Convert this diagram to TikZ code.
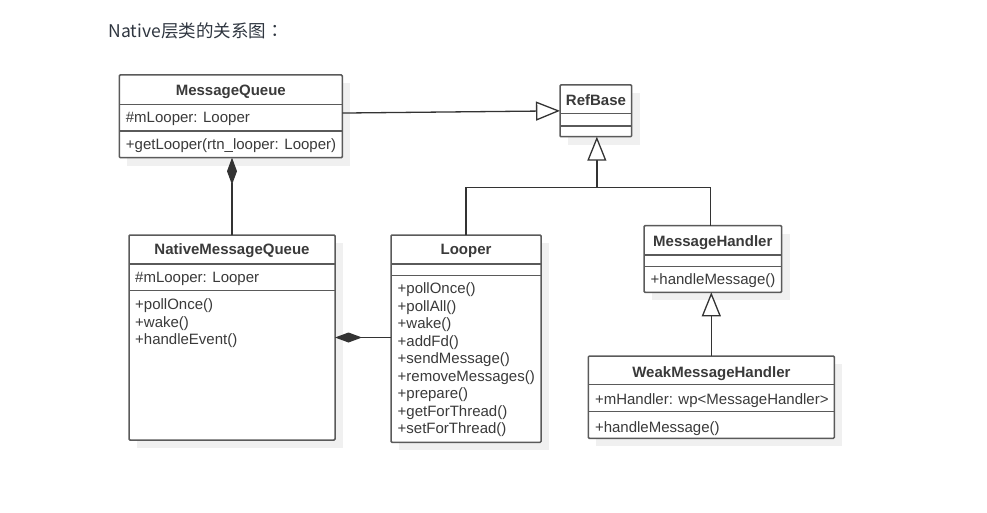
\documentclass[tikz,border=0pt]{standalone}
\usepackage{fontspec}
\setmainfont{Liberation Sans}
\newfontfamily\cjkfont{Noto Sans CJK SC}
\newfontfamily\cjktcfont{Noto Sans CJK TC}
\usetikzlibrary{arrows.meta,calc}
\definecolor{boxline}{HTML}{5A5A5A}
\definecolor{lncol}{HTML}{333333}
\definecolor{txt}{HTML}{3A3A3A}
\definecolor{titlecol}{HTML}{2F3640}
\definecolor{shadowcol}{HTML}{F0F0F0}
\newcommand\umlbox[7]{%
  \fill[shadowcol] (#2+8,#3+8) rectangle ++(#4,#5);
  \node[cls, minimum width=#4pt, minimum height=#5pt] (#1) at (#2,#3) {};
  \draw[sepline] (#2,#3+#6) -- ++(#4,0);
  \draw[sepline] (#2,#3+#7) -- ++(#4,0);
}
\begin{document}
\begin{tikzpicture}[x=1pt,y=-1pt,
  cls/.style={draw=boxline, line width=1.5pt, fill=white, anchor=north west, inner sep=0pt, outer sep=0pt, rounded corners=1pt},
  sepline/.style={draw=boxline, line width=1.5pt},
  t/.style={anchor=west, inner sep=0pt, text height=10.7pt, text depth=0pt, text=txt, font=\fontsize{15}{17.5}\selectfont},
  ttl/.style={anchor=center, inner sep=0pt, text height=10.7pt, text depth=0pt, text=txt, font=\fontsize{15}{17.5}\selectfont\bfseries},
  lnk/.style={draw=lncol, line width=1.3pt},
  gen/.style={lnk, -{Triangle[length=24pt, width=19pt, fill=white]}},
  comp/.style={lnk, -{Diamond[length=27pt, width=10pt]}}
]
\useasboundingbox (0,0) rectangle (987,513);

\node[anchor=west, inner sep=0pt, text height=13.3pt, text depth=0pt, text=titlecol, font=\cjkfont\fontsize{17.5}{21}\selectfont] (title) at (108.5,30.5) {Native层类的关系图{\cjktcfont ：}};

% class boxes
\umlbox{mq}{119.3}{75}{223}{82.7}{29.3}{56}
\umlbox{rb}{560}{85}{71.7}{51.7}{28.7}{41}
\umlbox{nmq}{129}{235}{206}{205}{29}{55.7}
\umlbox{looper}{391}{235}{150}{207.3}{29}{40.7}
\umlbox{mh}{644}{225.7}{137.7}{66.6}{29.3}{41}
\umlbox{wmh}{588.3}{356}{246}{82.3}{28.3}{55.7}

% MessageQueue
\node[ttl] (mq-t) at (230.8,90) {MessageQueue};
\node[t] (mq-a1) at (125.7,117.5) {\#mLooper: Looper};
\node[t] (mq-m1) at (125.7,144.5) {+getLooper(rtn\_looper: Looper)};

% RefBase
\node[ttl] (rb-t) at (596,100) {RefBase};

% NativeMessageQueue
\node[ttl] (nmq-t) at (232,249.5) {NativeMessageQueue};
\node[t] (nmq-a1) at (135,277) {\#mLooper: Looper};
\node[t] (nmq-m1) at (135,304.3) {+pollOnce()};
\node[t] (nmq-m2) at (135,321.8) {+wake()};
\node[t] (nmq-m3) at (135,339.3) {+handleEvent()};

% Looper
\node[ttl] (lp-t) at (466,249.5) {Looper};
\foreach \txt [count=\i from 0] in {+pollOnce(),+pollAll(),+wake(),+addFd(),+sendMessage(),+removeMessages(),+prepare(),+getForThread(),+setForThread()}
  \node[t] (lp-m\i) at (397.5,288.3+17.5*\i) {\txt};

% MessageHandler
\node[ttl] (mh-t) at (712.8,241) {MessageHandler};
\node[t] (mh-m1) at (650.5,279) {+handleMessage()};

% WeakMessageHandler
\node[ttl] (wmh-t) at (711.4,372.3) {WeakMessageHandler};
\node[t] (wmh-a1) at (594.8,399.3) {+mHandler: wp<MessageHandler>};
\node[t] (wmh-m1) at (594.8,426.7) {+handleMessage()};

% connectors
\coordinate (bar) at (0,187.5);
\draw[gen] ($(mq.north east)!0.46!(mq.south east)$) -- (rb.west);
\draw[lnk] (looper.north) |- ([xshift=-2.5pt]mh.north |- bar) -- ([xshift=-2.5pt]mh.north);
\draw[gen] ([xshift=1pt]rb.south |- bar) -- ([xshift=1pt]rb.south);
\draw[gen] (wmh.north) -- (wmh.north |- mh.south);
\draw[comp] (nmq.north) -- (nmq.north |- mq.south);
\draw[comp] (looper.west |- nmq.east) -- (nmq.east);
\end{tikzpicture}
\end{document}
